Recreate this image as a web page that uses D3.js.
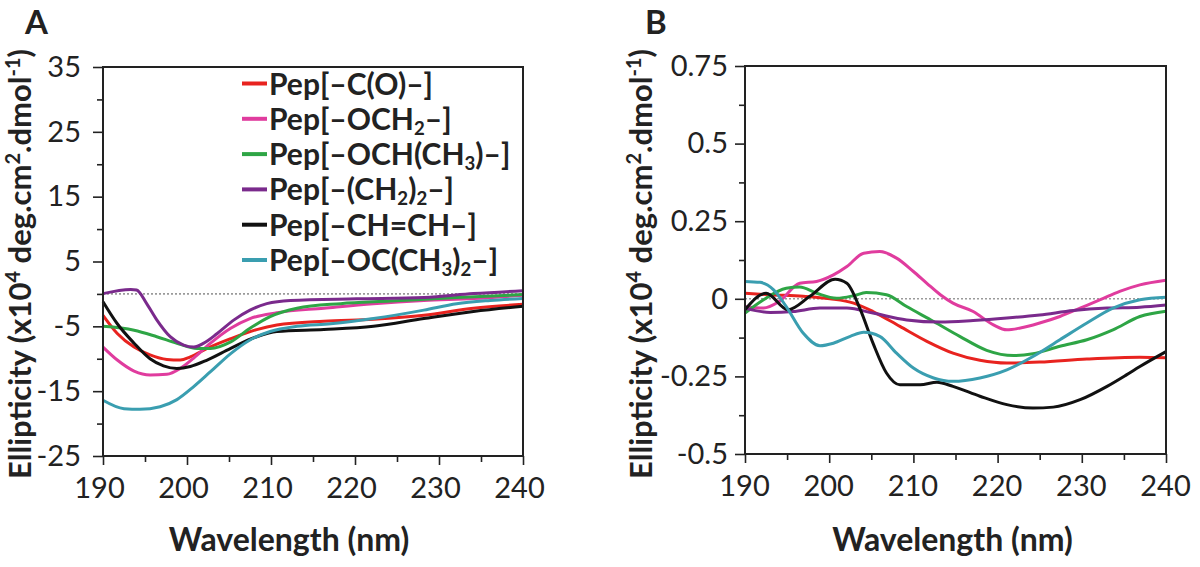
<!DOCTYPE html>
<html><head><meta charset="utf-8">
<script src="https://cdn.jsdelivr.net/npm/d3@7"></script>
<style>
body{margin:0;background:#fff}
svg{display:block}
text{font-family:Lato, "Open Sans", sans-serif; fill:#222}
</style>
</head><body><svg id="c" width="1200" height="567"></svg>
<script>
// ---------- data ----------
const seriesLabels = ["Pep[–C(O)–]", "Pep[–OCH_2–]", "Pep[–OCH(CH_3)–]", "Pep[–(CH_2)_2–]", "Pep[–CH=CH–]", "Pep[–OC(CH_3)_2–]"];
const seriesColors = ["#e8231f", "#e03c9e", "#2ea545", "#7a2a8c", "#111111", "#3a9eb0"];
const xTicks = [190, 200, 210, 220, 230, 240];
const xMinorTicks = [195, 205, 215, 225, 235];
const yTicksA = [-25, -15, -5, 5, 15, 25, 35];
const yMinorTicksA = [-20, -10, 0, 10, 20, 30];
const yTicksB = [-0.5, -0.25, 0, 0.25, 0.5, 0.75];
const yMinorTicksB = [-0.375, -0.125, 0.125, 0.375, 0.625];

// Panel A (x10^4 deg cm2 dmol-1)
const A_CO = [[190,-3.3],[191.7,-6.1],[193.7,-8.2],[195.6,-9.4],[197.6,-10.1],[199.2,-10.2],[200.4,-9.7],[202.4,-8.4],[205.2,-6.9],[208.3,-5.5],[210.7,-4.8],[216.3,-4.2],[222.2,-3.9],[228.2,-3.3],[234.1,-2.2],[240,-1.6]];
const A_OCH2 = [[190,-8.2],[191.7,-10.2],[193.7,-11.9],[195.6,-12.5],[197.6,-12.4],[199.2,-11.5],[200.8,-9.9],[202.8,-7.6],[205.2,-5.3],[207.5,-3.8],[210.7,-2.9],[216.3,-2.2],[222.2,-1.5],[228.2,-1.0],[234.1,-0.7],[240,-0.2]];
const A_OCHCH3 = [[190,-5.0],[193.7,-5.6],[196.4,-6.6],[198.8,-7.6],[201.2,-8.4],[202.8,-8.4],[205.2,-7.4],[207.5,-5.3],[209.9,-3.5],[213.1,-2.2],[218.3,-1.5],[224.2,-1.1],[232.1,-0.55],[240,-0.1]];
const A_CH22 = [[190,0.05],[193.3,0.7],[194,0.6],[195.2,-1.5],[196.4,-4.0],[198,-6.6],[199.6,-7.9],[200.8,-8.2],[202,-7.6],[203.6,-6.1],[205.6,-4.0],[207.5,-2.5],[209.5,-1.5],[212.3,-1.0],[220.2,-0.75],[228.2,-0.55],[234.1,0.05],[240,0.5]];
const A_CHCH = [[190,-1.2],[191.7,-4.6],[193.7,-7.6],[195.6,-10.0],[197.2,-11.1],[198.8,-11.5],[200.4,-11.2],[202.4,-10.2],[205.2,-8.4],[208.3,-6.6],[210.7,-5.8],[216.3,-5.5],[222.2,-5.0],[228.2,-3.8],[234.1,-2.7],[240,-1.9]];
const A_OCCH32 = [[190,-16.4],[192.5,-17.7],[194.4,-17.8],[196.8,-17.4],[198.8,-16.3],[200.8,-14.3],[202.8,-12.0],[205.2,-9.2],[207.5,-7.1],[209.9,-5.8],[213.1,-5.0],[217.1,-4.6],[222.2,-3.8],[228.2,-2.5],[232.1,-1.5],[236.1,-1.0],[240,-0.7]];

// Panel B
const B_CO = [[190,0.018],[193,0.013],[196.9,0.008],[200.1,0.0],[202.9,-0.014],[205.2,-0.041],[208.4,-0.089],[211.6,-0.137],[214.7,-0.175],[217.9,-0.198],[221.1,-0.207],[225,-0.204],[230.6,-0.194],[236.9,-0.188],[240,-0.19]];
const B_OCH2 = [[190,-0.025],[192.2,-0.03],[194,-0.01],[196.5,0.05],[198.5,0.056],[200.5,0.077],[202.1,0.104],[204.1,0.147],[206,0.152],[208,0.131],[210,0.088],[211.6,0.05],[213.2,0.013],[214.7,-0.014],[217.1,-0.041],[219.5,-0.084],[221.1,-0.1],[222.7,-0.094],[225,-0.078],[227.4,-0.057],[229.8,-0.03],[232.2,-0.003],[234.5,0.024],[236.9,0.045],[240,0.06]];
const B_OCHCH3 = [[190,-0.046],[192.2,-0.003],[194.9,0.034],[196.5,0.038],[198.5,0.018],[200.9,0.002],[202.9,0.01],[204.4,0.02],[206.8,0.013],[209.2,-0.025],[212.4,-0.073],[215.5,-0.121],[218.7,-0.166],[221.9,-0.183],[224.2,-0.177],[227.4,-0.153],[230.6,-0.132],[233.7,-0.1],[236.9,-0.057],[240,-0.04]];
const B_CH22 = [[190,-0.03],[193,-0.044],[195.7,-0.041],[198.9,-0.03],[202.1,-0.03],[205.2,-0.046],[209.2,-0.068],[213.2,-0.075],[217.1,-0.07],[221.1,-0.062],[225,-0.052],[229,-0.038],[233,-0.03],[236.9,-0.027],[240,-0.02]];
const B_CHCH = [[190,-0.035],[192.5,0.018],[195.1,-0.035],[197.7,0.008],[200.7,0.063],[202.1,0.05],[203.7,-0.035],[205.2,-0.143],[206.8,-0.239],[208.4,-0.277],[210.8,-0.277],[212.8,-0.269],[214.7,-0.282],[217.9,-0.314],[221.1,-0.341],[224.2,-0.352],[226.6,-0.349],[229.8,-0.325],[233,-0.282],[235.3,-0.245],[236.9,-0.218],[240,-0.17]];
const B_OCCH32 = [[190,0.056],[191.8,0.053],[193.4,0.029],[194.9,-0.025],[196.9,-0.11],[198.9,-0.151],[200.5,-0.143],[202.5,-0.121],[204.1,-0.108],[206,-0.121],[208,-0.175],[210,-0.223],[212.4,-0.255],[214.7,-0.266],[217.9,-0.255],[221.1,-0.229],[224.2,-0.186],[227.4,-0.132],[230.6,-0.078],[233.7,-0.03],[236.9,-0.003],[240,0.005]];

const seriesA = [A_CO, A_OCH2, A_OCHCH3, A_CH22, A_CHCH, A_OCCH32];
const seriesB = [B_CO, B_OCH2, B_OCHCH3, B_CH22, B_CHCH, B_OCCH32];

// ---------- drawing ----------
const svg = d3.select("#c");
const axisColor = "#222";

function subText(sel, str, fs) {
  // "_" marks a subscript char
  const parts = str.split(/(_\d)/).filter(p => p);
  let pending = 0;
  parts.forEach(p => {
    if (p[0] === "_") {
      sel.append("tspan").attr("font-size", fs * 0.62).attr("dy", fs * 0.16 + pending).text(p[1]);
      pending = -fs * 0.16;
    } else {
      sel.append("tspan").attr("font-size", fs).attr("dy", pending).text(p);
      pending = 0;
    }
  });
}

function panel(cfg) {
  const x = d3.scaleLinear().domain([190, 240]).range([cfg.left, cfg.right]);
  const y = d3.scaleLinear().domain(cfg.yDomain).range([cfg.bottom, cfg.top]);
  const g = svg.append("g");

  // zero dotted line
  g.append("line").attr("x1", x(190)).attr("x2", x(240)).attr("y1", y(0)).attr("y2", y(0))
    .attr("stroke", "#9a9a9a").attr("stroke-width", 1.6).attr("stroke-dasharray", "2,2");

  // curves
  const line = d3.line().x(d => x(d[0])).y(d => y(d[1])).curve(d3.curveMonotoneX);
  cfg.series.forEach((s, i) => {
    g.append("path").datum(s).attr("d", line).attr("fill", "none")
      .attr("stroke", seriesColors[i]).attr("stroke-width", 3).attr("stroke-linejoin", "round");
  });

  // box
  g.append("rect").attr("x", cfg.left).attr("y", cfg.top)
    .attr("width", cfg.right - cfg.left).attr("height", cfg.bottom - cfg.top)
    .attr("fill", "none").attr("stroke", axisColor).attr("stroke-width", 2);

  // y axis
  const yAx = g.append("g").attr("transform", `translate(${cfg.left},0)`)
    .call(d3.axisLeft(y).tickValues(cfg.yTicks).tickSize(10).tickPadding(cfg.yPad).tickFormat(d => String(d)));
  const yMin = g.append("g").attr("transform", `translate(${cfg.left},0)`)
    .call(d3.axisLeft(y).tickValues(cfg.yMinor).tickSize(6).tickFormat(""));
  // x axis
  const xAx = g.append("g").attr("transform", `translate(0,${cfg.bottom})`)
    .call(d3.axisBottom(x).tickValues(xTicks).tickSize(9).tickPadding(12).tickFormat(d => String(d)));
  const xMin = g.append("g").attr("transform", `translate(0,${cfg.bottom})`)
    .call(d3.axisBottom(x).tickValues(xMinorTicks).tickSize(6).tickFormat(""));
  [yAx, yMin, xAx, xMin].forEach(a => {
    a.select(".domain").remove();
    a.selectAll("line").attr("stroke", axisColor).attr("stroke-width", 1.6);
    a.selectAll("text").attr("font-family", "Lato").attr("font-size", 29).attr("fill", "#2a2a2a");
  });
  xAx.selectAll("text").attr("dx", cfg.xLabDx);

  // x title
  g.append("text").attr("x", (cfg.left + cfg.right) / 2 + cfg.xTitleDx).attr("y", 551)
    .attr("text-anchor", "middle").attr("font-weight", "bold").attr("font-size", 32).text("Wavelength (nm)");

  // y title
  const yt = g.append("text").attr("transform", `translate(${cfg.yTitleX},264) rotate(-90)`)
    .attr("text-anchor", "middle").attr("font-weight", "bold").attr("font-size", 31);
  yt.append("tspan").text("Ellipticity (x10");
  yt.append("tspan").attr("font-size", 20).attr("dy", -11).text("4");
  yt.append("tspan").attr("dy", 11).text(" deg.cm");
  yt.append("tspan").attr("font-size", 20).attr("dy", -11).text("2");
  yt.append("tspan").attr("dy", 11).text(".dmol");
  yt.append("tspan").attr("font-size", 20).attr("dy", -11).text("-1");
  yt.append("tspan").attr("dy", 11).text(")");

  // panel letter
  g.append("text").attr("x", cfg.letterX).attr("y", 34).attr("font-weight", "bold")
    .attr("font-size", 33).text(cfg.letter);
  return {x, y, g};
}

const pA = panel({left: 103, right: 523, top: 67, bottom: 456, yDomain: [-25, 35],
  yTicks: yTicksA, yMinor: yMinorTicksA, yPad: 12, series: seriesA, yTitleX: 31, letter: "A", letterX: 25,
  xLabDx: -4, xTitleDx: -24});
const pB = panel({left: 745, right: 1166, top: 66, bottom: 454, yDomain: [-0.5, 0.75],
  yTicks: yTicksB, yMinor: yMinorTicksB, yPad: 7, series: seriesB, yTitleX: 652, letter: "B", letterX: 645,
  xLabDx: -1, xTitleDx: -3});

// legend (panel A)
const leg = pA.g.append("g");
seriesLabels.forEach((lab, i) => {
  const cy = 83.5 + i * 35.3;
  leg.append("line").attr("x1", 242).attr("x2", 267).attr("y1", cy).attr("y2", cy)
    .attr("stroke", seriesColors[i]).attr("stroke-width", 4);
  const t = leg.append("text").attr("x", 269).attr("y", cy + 11).attr("font-weight", "bold");
  subText(t, lab, 30);
});
</script></body></html>
